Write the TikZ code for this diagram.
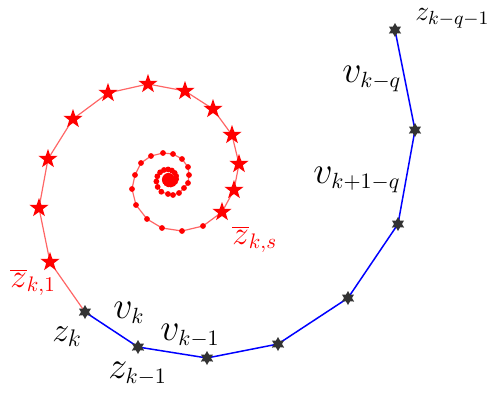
\RequirePackage{fix-cm}
\documentclass[tikz,border=0pt]{standalone}
\usetikzlibrary{shapes.geometric}
\DeclareMathSizes{19}{19}{11}{8}
\DeclareMathSizes{17}{17}{12}{8}
\DeclareMathSizes{16.5}{16.5}{10.5}{7}
\DeclareMathSizes{14}{14}{9.5}{7}
\definecolor{mark}{gray}{0.2}
\definecolor{lightred}{rgb}{1,0.4,0.4}
\tikzset{
  hexmark/.style={star, star points=6, star point ratio=1.75, fill=mark, draw=none, minimum size=7pt, inner sep=0pt},
  pentmark/.style={star, star points=5, star point ratio=2.5, fill=red, draw=none, minimum size=10pt, inner sep=0pt},
  dotmark/.style={circle, fill=red, draw=none, minimum size=2.9pt, inner sep=0pt},
  blueline/.style={draw=blue, line width=0.75pt, line join=round},
  redline/.style={draw=lightred, line width=0.6pt, line join=round},
  lab/.style={anchor=base west, inner sep=0pt, text=black, font=\fontsize{19}{22}\selectfont},
  labsmall/.style={lab, font=\fontsize{14}{16}\selectfont},
  labmid/.style={lab, font=\fontsize{17}{20}\selectfont},
  redlab/.style={lab, text=red, font=\fontsize{16.5}{18}\selectfont}
}
\begin{document}
\begin{tikzpicture}[x=0.5pt,y=-0.5pt]
\useasboundingbox (0,0) rectangle (498,397);
% black markers
\foreach \n/\x/\y in {1/85/312,2/138/347,3/207/358,4/278/344,5/348/298,6/398/224,7/415/130,8/395/30}
  \coordinate (b\n) at (\x,\y);
% red stars
\foreach \n/\x/\y in {1/50/262,2/39/208,3/48/159,4/73/119,5/108/93,6/148/84,7/185/91,8/213/109,9/232/135,10/239/164,11/234/190,12/222/212}
  \coordinate (r\n) at (\x,\y);
% red dots (outer part)
\foreach \n/\x/\y in {1/203/226,2/182/231,3/162/228,4/147/219,5/136/205,6/132/189,7/135/175,8/141/163,9/151/156,10/163/153,11/173/154,12/182/159,13/188/167,14/189/175,15/188/183,16/184/188,17/179/193,18/173/195,19/168/194}
  \coordinate (d\n) at (\x,\y);
% red dots (inner spiral)
\foreach \n in {1,...,60}{
  \pgfmathsetmacro{\rr}{16*0.93^\n}
  \pgfmathsetmacro{\ta}{97+24*\n}
  \coordinate (e\n) at ({169+\rr*cos(\ta)},{179+\rr*sin(\ta)});
}
% connectors
\draw[blueline] (b1) \foreach \i in {2,...,8}{ -- (b\i)};
\draw[redline] (b1) \foreach \i in {1,...,12}{ -- (r\i)} \foreach \i in {1,...,19}{ -- (d\i)} \foreach \i in {1,...,60}{ -- (e\i)};
% markers
\foreach \i in {1,...,19} \node[dotmark] (dm\i) at (d\i) {};
\foreach \i in {1,...,60} \node[dotmark] (em\i) at (e\i) {};
\foreach \i in {1,...,12} \node[pentmark] (rm\i) at (r\i) {};
\foreach \i in {1,...,8} \node[hexmark] (bm\i) at (b\i) {};
% labels
\node[labsmall] (lzq) at (415,20) {$z_{k-q-1}$};
\node[lab] (lvq) at (342,82) {$v_{k-q}$};
\node[lab] (lvq1) at (313,183) {$v_{k+1-q}$};
\node[lab] (lvk) at (113,318) {$v_k$};
\node[lab] (lvk1) at (160,340) {$v_{k-1}$};
\node[lab] (lzk1) at (108,378) {$z_{k-1}$};
\node[labmid] (lzk) at (52,341) {$z_k$};
\node[redlab] (lz1) at (10,287) {$\overline{z}_{k,1}$};
\node[redlab] (lzs) at (232,244) {$\overline{z}_{k,s}$};
\end{tikzpicture}
\end{document}
